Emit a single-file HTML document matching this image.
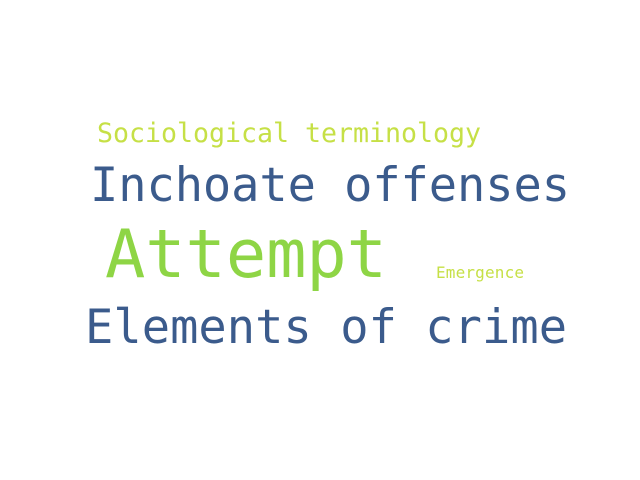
<!DOCTYPE html>
<html><head><meta charset="utf-8"><style>
html,body{margin:0;padding:0;background:#fff;}
svg{display:block;}
text{font-family:"DejaVu Sans Mono","Liberation Mono",monospace;}
</style></head><body>
<svg width="640" height="480">
<rect width="640" height="480" fill="#fff"/>
<text x="97" y="142" font-size="26.6" fill="#c6e046" textLength="384">Sociological terminology</text>
<text x="90" y="201" font-size="47" fill="#3b5b8c" textLength="480">Inchoate offenses</text>
<text x="105" y="277" font-size="67" fill="#8ed545" textLength="282">Attempt</text>
<text x="436" y="278" font-size="16" fill="#c6e046" textLength="88">Emergence</text>
<text x="85" y="343" font-size="47" fill="#3b5b8c" textLength="482">Elements of crime</text>
</svg>
</body></html>
